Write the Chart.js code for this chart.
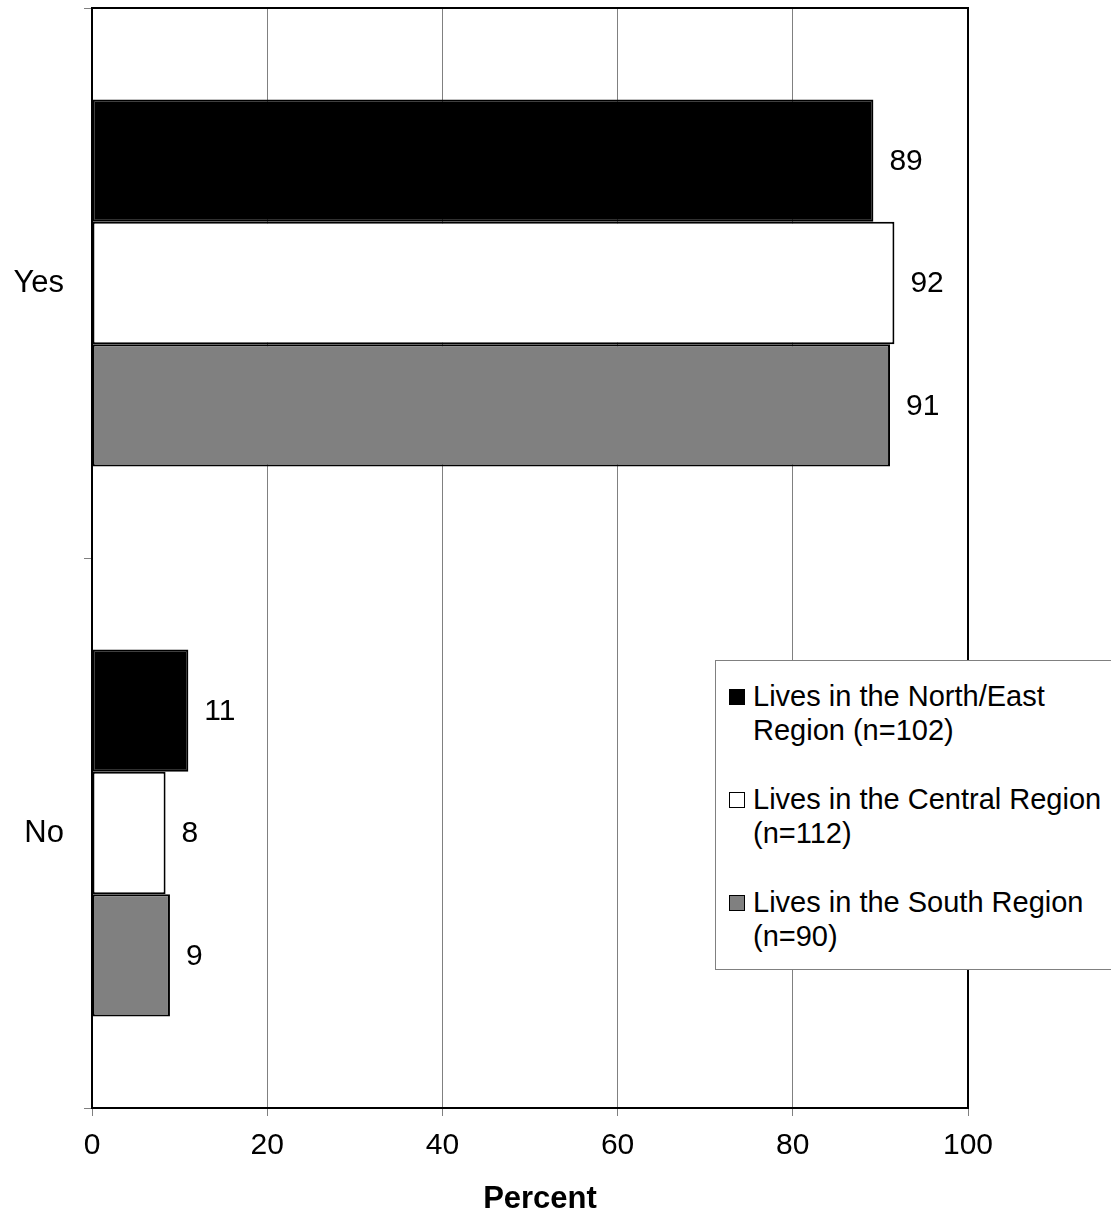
<!DOCTYPE html>
<html>
<head>
<meta charset="utf-8">
<script src="https://cdn.jsdelivr.net/npm/chart.js@4"></script>
<style>
    body { margin: 0; background: #fff; }
    #wrap { position: relative; width: 1111px; height: 1216px; }
    #legend {
        position: absolute; left: 715px; top: 660px; width: 420px; height: 310px;
        border: 1px solid #808080; background: #fff; box-sizing: border-box;
        font-family: 'Liberation Sans', Arial, sans-serif; font-size: 29px; color: #000;
        padding-top: 18px;
    }
    .legend-item { position: relative; padding-left: 37px; line-height: 34px; margin-bottom: 35px; }
    .legend-color {
        position: absolute; left: 13px; top: 10px; width: 16px; height: 16px;
        border: 1.5px solid #000; box-sizing: border-box;
    }
</style>
</head>
<body>
<div id="wrap">
    <canvas id="chart" width="1111" height="1216"></canvas>
    <div id="legend"></div>
</div>
<script>
// Values (percent)
const categories = ['Yes', 'No'];
const northEast = [89.2, 11.0];
const central = [91.6, 8.4];
const south = [91.1, 8.9];
const xTicks = [0, 20, 40, 60, 80, 100];
const xTitle = 'Percent';

const seriesNames = ['Lives in the North/East Region (n=102)', 'Lives in the Central Region (n=112)', 'Lives in the South Region (n=90)'];
const seriesColors = ['#000000', '#ffffff', '#808080'];

const font = 'Liberation Sans, Arial, sans-serif';

// bar value labels
const valueLabels = {
    id: 'valueLabels',
    afterDatasetsDraw(chart) {
        const ctx = chart.ctx;
        ctx.save();
        ctx.font = '30px ' + font;
        ctx.fillStyle = '#000';
        ctx.textAlign = 'left';
        ctx.textBaseline = 'middle';
        chart.data.datasets.forEach((ds, i) => {
            chart.getDatasetMeta(i).data.forEach((bar, j) => {
                ctx.fillText(Math.round(ds.data[j]), bar.x + 16, bar.y + 1);
            });
        });
        ctx.restore();
    }
};

// black frame round the plot area, plus the x title (sits a bit right of centre in the original)
const plotFrame = {
    id: 'plotFrame',
    afterDatasetsDraw(chart) {
        const a = chart.chartArea;
        const ctx = chart.ctx;
        ctx.save();
        ctx.strokeStyle = '#000';
        ctx.lineWidth = 2;
        ctx.strokeRect(a.left, a.top, a.right - a.left, a.bottom - a.top);
        ctx.font = 'bold 31px ' + font;
        ctx.fillStyle = '#000';
        ctx.textAlign = 'center';
        ctx.textBaseline = 'middle';
        ctx.fillText(xTitle, (a.left + a.right) / 2 + 10, a.bottom + 91);
        ctx.restore();
    }
};

new Chart(document.getElementById('chart'), {
    type: 'bar',
    data: {
        labels: categories,
        datasets: [
            { label: seriesNames[0], data: northEast, backgroundColor: seriesColors[0] },
            { label: seriesNames[1], data: central, backgroundColor: seriesColors[1] },
            { label: seriesNames[2], data: south, backgroundColor: seriesColors[2] }
        ].map(d => Object.assign(d, {
            borderColor: '#000',
            borderWidth: 2,
            borderSkipped: false,
            categoryPercentage: 0.667,
            barPercentage: 1.0
        }))
    },
    options: {
        indexAxis: 'y',
        responsive: false,
        animation: false,
        layout: { padding: { top: 8, right: 143, left: 0, bottom: 0 } },
        plugins: {
            legend: { display: false },
            tooltip: { enabled: false }
        },
        scales: {
            x: {
                min: 0,
                max: 100,
                afterBuildTicks: axis => { axis.ticks = xTicks.map(v => ({ value: v })); },
                afterFit: axis => { axis.height = 108; axis.paddingLeft = 0; axis.paddingRight = 0; },
                grid: { color: '#808080', lineWidth: 1, tickLength: 8 },
                border: { display: false },
                ticks: { color: '#000', font: { family: font, size: 30 }, padding: 12 }
            },
            y: {
                afterFit: axis => { axis.width = 92; axis.paddingTop = 0; axis.paddingBottom = 0; },
                grid: { offset: true, drawOnChartArea: false, color: '#808080', tickLength: 8 },
                border: { display: false },
                ticks: { color: '#000', font: { family: font, size: 31 }, padding: 20 }
            }
        }
    },
    plugins: [valueLabels, plotFrame]
});

// legend drawn as html over the plot, as in the picture
const legendEl = document.getElementById('legend');
const legendLines = [
    ['Lives in the North/East', 'Region (n=102)'],
    ['Lives in the Central Region', '(n=112)'],
    ['Lives in the South Region', '(n=90)']
];
legendLines.forEach((lines, i) => {
    const item = document.createElement('div');
    item.className = 'legend-item';
    item.innerHTML = `<div class="legend-color" style="background-color:${seriesColors[i]}"></div>${lines.join('<br>')}`;
    legendEl.appendChild(item);
});
</script>
</body>
</html>
